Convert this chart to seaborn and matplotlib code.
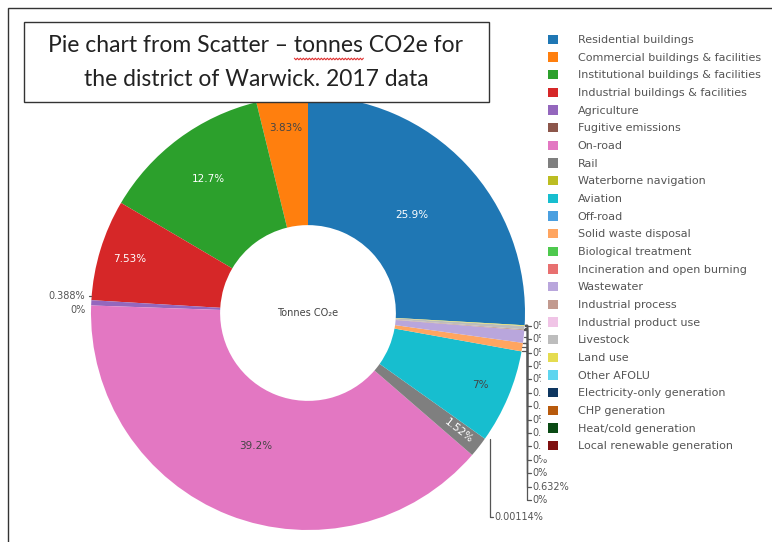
import numpy as np
import matplotlib
matplotlib.use("Agg")
import matplotlib.pyplot as plt
import seaborn as sns
from matplotlib.patches import Rectangle, Patch
from matplotlib.lines import Line2D

# Warwick district, 2017, share of tonnes CO2e (percent)
sectors = [
    "Residential buildings", "Commercial buildings & facilities",
    "Institutional buildings & facilities", "Industrial buildings & facilities",
    "Agriculture", "Fugitive emissions", "On-road", "Rail",
    "Waterborne navigation", "Aviation", "Off-road", "Solid waste disposal",
    "Biological treatment", "Incineration and open burning", "Wastewater",
    "Industrial process", "Industrial product use", "Livestock", "Land use",
    "Other AFOLU", "Electricity-only generation", "CHP generation",
    "Heat/cold generation", "Local renewable generation",
]
shares = [25.9, 3.83, 12.7, 7.53, 0.388, 0, 39.2, 1.52, 0.00114, 7.0,
          0, 0.632, 0, 0, 0.93, 0.07, 0, 0.25, 0.05, 0, 0, 0, 0, 0]

extra_colors = ["#4a9fe0", "#ffa560", "#4ec94e", "#e87070", "#b9a6dc",
                "#c29a8f", "#f0c4e6", "#bdbdbd", "#e5dc50", "#5fd5ef",
                "#0e3660", "#b85a0d", "#0a4a14", "#7f1010"]
colors = list(sns.color_palette("tab10").as_hex()) + extra_colors

title_lines = ["Pie chart from Scatter \u2013 tonnes CO2e for",
               "the district of Warwick. 2017 data"]

sns.set_theme(style="white")
plt.rcParams["font.family"] = ["DejaVu Sans"]

W, H = 772, 542
fig = plt.figure(figsize=(W / 100, H / 100), dpi=100)

# pie centre (308, 313) px, radius 217 px
R = 217
cx, cy = 308, 313
ax = fig.add_axes([(cx - R) / W, (H - cy - R) / H, 2 * R / W, 2 * R / H])

total = sum(shares)
start = 90 - 360 * shares[0] / total
wedges, _ = ax.pie(shares, colors=colors, startangle=start, counterclock=True,
                   radius=1, wedgeprops=dict(width=0.595, linewidth=0))
ax.set_xlim(-1, 1)
ax.set_ylim(-1, 1)
ax.axis("off")


def px(dx, dy):
    # pixel offsets -> data units
    return dx / R, -dy / R


dark_text = {1, 6, 9}
for i, w in enumerate(wedges):
    v = shares[i]
    if v < 1:
        continue
    mid = np.deg2rad((w.theta1 + w.theta2) / 2)
    span = w.theta2 - w.theta1
    r = 0.86 if span < 30 else (0.77 if span < 60 else 0.66)
    rot = 0
    if span < 8:
        rot = np.rad2deg(mid) - 360 if np.rad2deg(mid) > 180 else np.rad2deg(mid)
        r = 0.88
    ax.text(r * np.cos(mid), r * np.sin(mid), f"{v:.3g}%", ha="center",
            va="center", fontsize=7.5, rotation=rot,
            color="#444444" if i in dark_text else "white")

line_kw = dict(color="#555555", lw=0.9, clip_on=False)
lab_kw = dict(fontsize=7, color="#555555", clip_on=False)

# left side small labels
for i, dy in [(4, -7), (5, 5)]:
    w = wedges[i]
    mid = np.deg2rad((w.theta1 + w.theta2) / 2)
    ex, ey = np.cos(mid), np.sin(mid)
    ox, oy = px(-6, dy)
    if i == 4:
        ax.plot([ex, ex + ox * 0.3], [ey + oy, ey + oy], **line_kw)
    ax.text(ex + ox, ey + oy, f"{shares[i]:.3g}%", ha="right", va="center", **lab_kw)

# waterborne navigation: long drop
w = wedges[8]
a = np.deg2rad(w.theta1)
ex, ey = np.cos(a), np.sin(a)
ly = (cy - 517) / R
ax.plot([ex + 5 / R, ex + 5 / R, ex + 8 / R], [ey, ly, ly], **line_kw)
ax.text(ex + 9 / R, ly, f"{shares[8]:.3g}%", ha="left", va="center", **lab_kw)

# stacked labels on the right (Off-road .. Local renewable)
xline = (527 - cx) / R
for i in range(10, 24):
    w = wedges[i]
    mid = np.deg2rad((w.theta1 + w.theta2) / 2)
    ex, ey = np.cos(mid), np.sin(mid)
    ly = (cy - (500 - 13.4 * (i - 10))) / R
    ax.plot([ex, xline, xline, xline + 4 / R], [ey, ey, ly, ly], **line_kw)
    ax.text(xline + 5 / R, ly, f"{shares[i]:.3g}%", ha="left", va="center", **lab_kw)

ax.text(0, 0, "Tonnes CO\u2082e", ha="center", va="center", fontsize=7, color="#444444")

# legend covers the upper stacked labels, as in the source
handles = [Patch(facecolor=c, edgecolor="none") for c in colors]
leg = fig.legend(handles, sectors, loc="upper left",
                 bbox_to_anchor=(541 / W, 1 - 28 / H), frameon=True,
                 fontsize=8, labelspacing=0.65, handlelength=0.9,
                 handleheight=0.9, handletextpad=1.8, borderpad=0.6,
                 borderaxespad=0)
leg.get_frame().set_facecolor("white")
leg.get_frame().set_edgecolor("white")
leg.get_frame().set_alpha(1)
leg.set_zorder(10)
for t in leg.get_texts():
    t.set_color("#555555")

# outer frame of the screenshot and the title box
fig.add_artist(Rectangle((8 / W, -0.1), 1.2, 1 - 8 / H + 0.1, transform=fig.transFigure,
                         fill=False, edgecolor="#333333", lw=1.0))
fig.add_artist(Rectangle((24 / W, 1 - 102 / H), 465 / W, 80 / H, transform=fig.transFigure,
                         facecolor="white", edgecolor="#333333", lw=1.0, zorder=5))
title_kw = dict(ha="center", va="center", fontsize=16.5,
                family=["Lato", "DejaVu Sans"], color="#222222", zorder=6)
t1 = fig.text(256 / W, 1 - 46 / H, title_lines[0], **title_kw)
fig.text(256 / W, 1 - 79 / H, title_lines[1], **title_kw)

# red spell-check squiggle under "tonnes"
renderer = fig.canvas.get_renderer()
full = t1.get_window_extent(renderer)
tmp = fig.text(0, 0, "Pie chart from Scatter \u2013 ", fontsize=16.5,
               family=["Lato", "DejaVu Sans"])
pre_w = tmp.get_window_extent(renderer).width
tmp.set_text("tonnes")
word_w = tmp.get_window_extent(renderer).width
tmp.remove()
x0 = full.x0 + pre_w
xs = np.arange(x0, x0 + word_w + 0.1, 1.5)
ys = (H - 59) + np.where(np.arange(len(xs)) % 2 == 0, 0.8, -0.8)
fig.add_artist(Line2D(xs / W, ys / H, transform=fig.transFigure,
                      color="#e03030", lw=0.8, zorder=7))

fig.savefig("out.png", dpi=100)
